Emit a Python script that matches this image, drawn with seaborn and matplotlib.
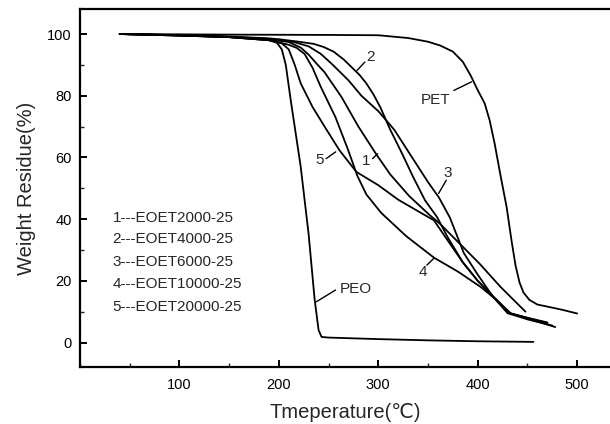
import matplotlib
matplotlib.use("Agg")
import matplotlib.pyplot as plt
from matplotlib.ticker import MultipleLocator
import numpy as np
import pandas as pd
import seaborn as sns

# TGA curves (temperature in C, residue in %)
peo_t = [40, 100, 150, 190, 198, 203, 207, 212, 222, 230, 236, 240, 243, 250, 300, 350, 400, 456]
peo_w = [100, 99.6, 99.0, 98.0, 97.2, 95.0, 90.0, 78.5, 57.0, 35.0, 14.0, 4.0, 1.8, 1.6, 1.1, 0.7, 0.4, 0.2]

pet_t = [40, 150, 250, 300, 330, 350, 362, 375, 385, 393, 400, 407, 412, 417, 423, 429,
         434, 438, 442, 446, 452, 460, 472, 485, 500]
pet_w = [100, 99.8, 99.7, 99.6, 98.7, 97.5, 96.3, 94.3, 91.0, 86.5, 81.8, 77.5, 72.0, 64.5, 54.0, 44.0,
         33.0, 25.0, 19.5, 16.2, 13.8, 12.3, 11.5, 10.6, 9.4]

c1_t = [40, 100, 150, 190, 210, 222, 230, 238, 246, 263, 280, 298, 312, 331, 351, 362, 382, 402, 423, 448]
c1_w = [100, 99.5, 99.0, 98.3, 97.4, 95.6, 93.3, 90.4, 87.6, 79.6, 70.0, 61.0, 54.5, 47.5, 41.5, 38.5, 32.0, 25.5, 18.0, 10.0]

c2_t = [40, 100, 150, 190, 200, 220, 235, 245, 255, 265, 273, 281, 288, 295, 302, 312, 324, 335, 347,
        359, 370, 385, 400, 420, 433, 450, 478]
c2_w = [100, 99.6, 99.2, 98.6, 98.3, 97.5, 96.8, 95.8, 94.3, 91.8, 89.3, 86.8, 84.0, 80.5, 76.3, 69.0,
        61.2, 53.7, 46.1, 40.7, 34.0, 26.0, 20.0, 13.5, 9.5, 7.8, 5.0]

c3_t = [40, 100, 150, 190, 215, 230, 242, 253, 270, 283, 300, 316, 328, 340, 350, 361, 372, 386, 400,
        415, 432, 450, 470]
c3_w = [100, 99.6, 99.1, 98.4, 97.4, 96.0, 93.6, 90.4, 85.0, 80.0, 75.0, 69.0, 63.0, 57.0, 52.0, 47.0,
        40.5, 29.0, 22.0, 15.0, 9.5, 8.0, 6.5]

c4_t = [40, 100, 150, 190, 210, 218, 226, 234, 242, 257, 269, 279, 288, 303, 328, 356, 380, 403, 420,
        432, 450, 470]
c4_w = [100, 99.5, 99.0, 98.0, 96.5, 95.5, 93.5, 89.0, 83.0, 73.0, 63.0, 54.0, 48.0, 42.0, 34.5, 27.5,
        23.0, 18.0, 13.5, 9.5, 8.0, 6.3]

c5_t = [40, 100, 150, 190, 203, 210, 216, 222, 234, 246, 261, 278, 300, 320, 343, 356, 370, 385, 400,
        415, 430, 450, 475]
c5_w = [100, 99.5, 99.0, 98.0, 97.0, 95.0, 90.0, 84.0, 76.3, 70.0, 62.3, 55.3, 51.0, 46.3, 42.0, 39.6,
        33.0, 26.0, 20.0, 15.0, 9.5, 7.5, 5.5]

legend_lines = ["1---EOET2000-25", "2---EOET4000-25", "3---EOET6000-25",
                "4---EOET10000-25", "5---EOET20000-25"]
legend_y = [40.5, 33.4, 26.2, 18.9, 11.6]

# curve labels: text, text position, leader line start/end
curve_labels = ["2", "PET", "5", "1", "3", "4", "PEO"]
label_xy = [(292, 92.5), (358, 78.7), (241, 59.1), (288, 58.7), (370, 54.8), (345, 22.9), (277, 17.2)]
leader_from = [(286.5, 90.9), (376, 81.7), (247.5, 59.6), (294.3, 59.6), (368.4, 52.6), (348.9, 25.1), (257, 17.0)]
leader_to = [(278.7, 88.2), (393.8, 84.5), (257.2, 61.8), (299.4, 61.2), (360.6, 48.3), (355.6, 27.2), (237.7, 13.2)]

sns.set_theme(style="ticks")
plt.rcParams["font.family"] = ["Liberation Sans", "DejaVu Sans"]

fig = plt.figure(figsize=(6.1, 4.24), dpi=100)
ax = fig.add_axes([0.131, 0.134, 0.869, 0.844])

curves = [(peo_t, peo_w), (pet_t, pet_w), (c1_t, c1_w), (c2_t, c2_w),
          (c3_t, c3_w), (c4_t, c4_w), (c5_t, c5_w)]
for t, w in curves:
    sns.lineplot(x=t, y=w, ax=ax, color="black", linewidth=1.3, sort=False)

ax.set_xlim(0, 533)
ax.set_ylim(-8, 108)
ax.xaxis.set_major_locator(MultipleLocator(100))
ax.xaxis.set_minor_locator(MultipleLocator(50))
ax.yaxis.set_major_locator(MultipleLocator(20))
ax.yaxis.set_minor_locator(MultipleLocator(10))
ax.set_xticks([100, 200, 300, 400, 500])
ax.tick_params(which="major", direction="in", length=5, width=1.4, labelsize=10.5, colors="black")
ax.tick_params(which="minor", direction="in", length=3, width=1.0)
ax.tick_params(axis="x", pad=8)
ax.tick_params(axis="y", pad=6)

for side in ["left", "bottom", "top"]:
    ax.spines[side].set_linewidth(1.6)
    ax.spines[side].set_color("black")
ax.spines["right"].set_visible(False)

ax.set_xlabel("Tmeperature(\u2103)", fontsize=14.5, labelpad=8)
ax.set_ylabel("Weight Residue(%)", fontsize=14.5, labelpad=8)

for txt, yv in zip(legend_lines, legend_y):
    ax.text(33, yv, txt, fontsize=11, va="center", ha="left")

for txt, xy, a, b in zip(curve_labels, label_xy, leader_from, leader_to):
    ax.text(xy[0], xy[1], txt, fontsize=11, ha="center", va="center")
    ax.plot([a[0], b[0]], [a[1], b[1]], color="black", linewidth=1.0)

fig.savefig("out.png", dpi=100)
